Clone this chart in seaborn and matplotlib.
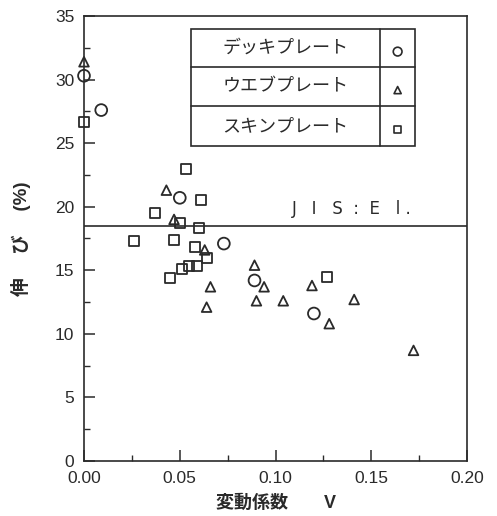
import numpy as np
import pandas as pd
import matplotlib
matplotlib.use('Agg')
import matplotlib.pyplot as plt
from matplotlib.patches import Rectangle
from matplotlib.ticker import MultipleLocator
import seaborn as sns

# 変動係数 V と 伸び (%)
deck_v = [0.000, 0.009, 0.050, 0.073, 0.089, 0.120]
deck_el = [30.3, 27.6, 20.7, 17.1, 14.2, 11.6]

web_v = [0.000, 0.043, 0.047, 0.063, 0.066, 0.064, 0.089, 0.094, 0.090,
         0.104, 0.119, 0.128, 0.141, 0.172]
web_el = [31.4, 21.3, 19.0, 16.6, 13.7, 12.1, 15.4, 13.7, 12.6,
          12.6, 13.8, 10.8, 12.7, 8.7]

skin_v = [0.000, 0.053, 0.061, 0.037, 0.050, 0.060, 0.026, 0.047, 0.058,
          0.064, 0.059, 0.055, 0.051, 0.045, 0.127]
skin_el = [26.7, 23.0, 20.5, 19.5, 18.7, 18.3, 17.3, 17.4, 16.8,
           16.0, 15.3, 15.3, 15.1, 14.4, 14.5]

groups = ['デッキプレート', 'ウエブプレート', 'スキンプレート']
jis_el = 18.5
x_ticks = [0.00, 0.05, 0.10, 0.15, 0.20]
x_ticklabels = ['0.00', '0.05', '0.10', '0.15', '0.20']
y_ticks = [0, 5, 10, 15, 20, 25, 30, 35]

df = pd.concat([
    pd.DataFrame({'V': deck_v, 'el': deck_el, 'kind': groups[0]}),
    pd.DataFrame({'V': web_v, 'el': web_el, 'kind': groups[1]}),
    pd.DataFrame({'V': skin_v, 'el': skin_el, 'kind': groups[2]}),
])

sns.set_style('ticks')
plt.rcParams['font.family'] = ['Liberation Sans', 'Noto Sans CJK JP', 'DejaVu Sans']

ink = '#2a2a2a'
markers = {groups[0]: ('o', 72), groups[1]: ('^', 48), groups[2]: ('s', 52)}

fig = plt.figure(figsize=(4.97, 5.16), dpi=100)
ax = fig.add_axes([0.169, 0.1066, 0.771, 0.8624])

for g in groups:
    m, s = markers[g]
    sns.scatterplot(data=df[df['kind'] == g], x='V', y='el', marker=m, s=s,
                    facecolor='none', edgecolor=ink, linewidth=1.3,
                    ax=ax, clip_on=False, zorder=3)

ax.axhline(jis_el, color=ink, lw=1.2, zorder=2)
ax.text(0.140, jis_el + 0.6, 'J   I   S  :  E   l .', fontsize=12, color=ink,
        ha='center', va='bottom', family='DejaVu Sans')

ax.set_xlim(0, 0.20)
ax.set_ylim(0, 35)
ax.set_xticks(x_ticks)
ax.set_xticklabels(x_ticklabels)
ax.set_yticks(y_ticks)
ax.xaxis.set_minor_locator(MultipleLocator(0.025))
ax.yaxis.set_minor_locator(MultipleLocator(2.5))
ax.tick_params(which='major', direction='in', length=8, width=1.1,
               color=ink, labelsize=12.5, labelcolor=ink, pad=7)
ax.tick_params(which='minor', direction='in', length=4, width=1.0, color=ink)
ax.tick_params(top=False, right=False, which='both')
for sp in ax.spines.values():
    sp.set_color(ink)
    sp.set_linewidth(1.2)

ax.set_xlabel('変動係数　　V', fontsize=13, fontweight='bold', color=ink,
              labelpad=6)
ax.set_ylabel('伸　 び　 (%)', fontsize=13.5, fontweight='bold', color=ink,
              labelpad=17)

# table-style legend
x0, x1, xd = 0.279, 0.864, 0.773
row_edges = [0.971, 0.885, 0.798, 0.708]
ax.add_patch(Rectangle((x0, row_edges[3]), x1 - x0, row_edges[0] - row_edges[3],
                       transform=ax.transAxes, fill=False, ec=ink, lw=1.2, zorder=4))
for yy in row_edges[1:3]:
    ax.plot([x0, x1], [yy, yy], transform=ax.transAxes, color=ink, lw=1.2, zorder=4)
ax.plot([xd, xd], [row_edges[3], row_edges[0]], transform=ax.transAxes,
        color=ink, lw=1.2, zorder=4)
for i, g in enumerate(groups):
    yc = (row_edges[i] + row_edges[i + 1]) / 2
    ax.text((x0 + xd) / 2, yc, g, transform=ax.transAxes, fontsize=13,
            ha='center', va='center', color=ink, family='Noto Sans CJK JP')
    m, s = markers[g]
    ax.scatter([(xd + x1) / 2], [yc - 0.008], marker=m, s=s * 0.55,
               facecolor='none', edgecolor=ink, linewidth=1.2,
               transform=ax.transAxes, zorder=5)

fig.savefig('out.png', dpi=100)
